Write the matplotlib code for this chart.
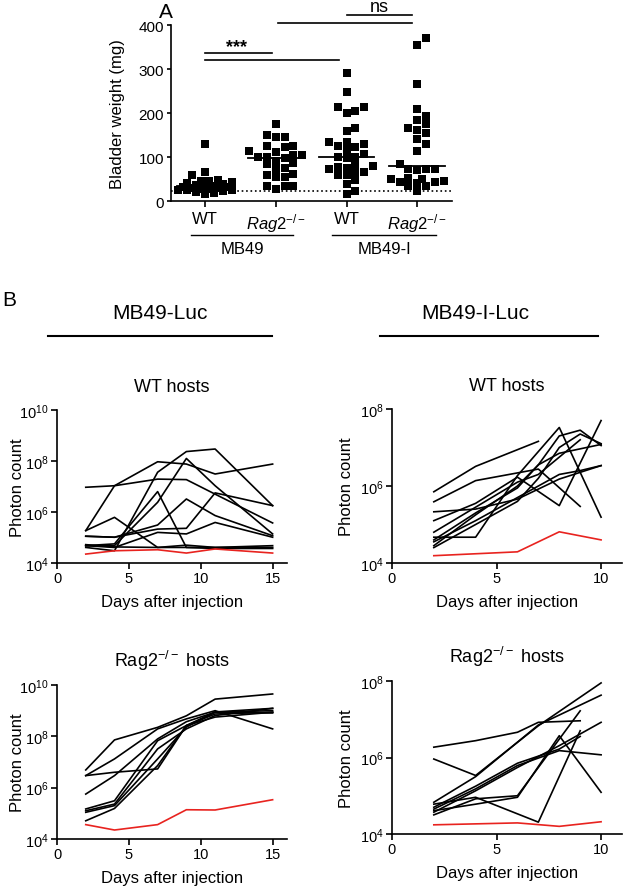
import numpy as np
import matplotlib.pyplot as plt
from matplotlib.ticker import NullLocator

plt.rcParams['font.family'] = ['Liberation Sans', 'DejaVu Sans']
plt.rcParams['mathtext.fontset'] = 'custom'
plt.rcParams['mathtext.rm'] = 'Liberation Sans'
plt.rcParams['mathtext.it'] = 'Liberation Sans:italic'
plt.rcParams['mathtext.bf'] = 'Liberation Sans:bold'
plt.rcParams['axes.linewidth'] = 1.2
plt.rcParams['xtick.major.width'] = 1.2
plt.rcParams['ytick.major.width'] = 1.2

# ---------------- panel A data (bladder weight, mg) ----------------
group_labels = ['WT', r'$\mathit{Rag2}^{-/-}$', 'WT', r'$\mathit{Rag2}^{-/-}$']
wt_mb49 = [129, 67, 59, 48, 46, 46, 43, 42, 40, 39, 38, 37, 36, 35, 35,
           34, 33, 32, 31, 30, 29, 28, 27, 26, 25, 24, 22, 20, 18, 17]
rag_mb49 = [176, 146, 146, 150, 126, 123, 125, 111, 114, 104, 101, 98, 101,
            105, 86, 92, 75, 83, 73, 61, 54, 54, 60, 33, 27, 33, 35]
wt_mb49i = [292, 248, 214, 200, 205, 214, 167, 158, 133, 129, 123, 124, 133,
            116, 107, 101, 98, 100, 78, 76, 84, 73, 79, 66, 65, 58, 58, 48,
            39, 23, 17]
rag_mb49i = [370, 355, 267, 208, 194, 183, 176, 162, 165, 154, 142, 130, 114,
             85, 73, 71, 73, 73, 43, 46, 51, 52, 51, 35, 43, 35, 40, 23]
detection_limit = 23

# ---------------- panel B data (log10 photon count) ----------------
nan = np.nan
days_luc = [2, 4, 7, 9, 11, 15]
luc_wt = [
    [6.97, 7.03, 7.29, 7.27, 6.70, 5.57],
    [5.27, 7.03, 7.97, 7.88, 7.49, 7.88],
    [4.61, 4.48, 7.56, 8.37, 8.47, 6.25],
    [4.68, 4.68, 6.38, 8.10, 7.03, 5.14],
    [4.68, 4.75, 6.80, 4.61, 4.61, 4.68],
    [5.27, 5.79, 4.61, 4.70, 4.61, 4.61],
    [5.05, 5.01, 5.33, 5.36, 6.75, 6.25],
    [5.05, 5.01, 5.49, 6.51, 5.86, 5.07],
    [4.68, 4.61, 5.20, 5.14, 5.59, 5.01],
    [4.72, 4.63, 4.61, 4.61, 4.57, 4.57],
]
luc_wt_ctrl = [4.35, 4.48, 4.52, 4.39, 4.55, 4.39]

luc_rag = [
    [6.69, 7.86, 8.35, 8.80, 9.45, 9.65],
    [6.47, 7.12, 8.29, 8.68, 9.00, 8.29],
    [6.47, 6.60, 6.73, 8.42, 8.95, 9.09],
    [5.75, 6.47, 7.90, 8.57, 8.94, 9.00],
    [5.17, 5.49, 7.83, 8.42, 8.87, 8.94],
    [5.10, 5.36, 7.51, 8.29, 8.81, 9.09],
    [5.04, 5.30, 7.12, 8.36, 8.94, 8.91],
    [4.71, 5.19, 6.86, 8.42, 8.75, 8.94],
]
luc_rag_ctrl = [4.56, 4.35, 4.56, 5.14, 5.13, 5.53]

days_luci = [2, 4, 6, 7, 8, 9, 10]
luci_wt = [
    [5.85, 6.51, nan, 7.16, nan, nan, nan],
    [5.59, 6.14, nan, 6.44, nan, 5.47, nan],
    [5.33, 5.40, 5.66, nan, 6.18, nan, 6.53],
    [5.10, 5.55, 6.23, nan, 5.49, nan, 7.70],
    [4.67, 4.67, 6.27, nan, 7.52, nan, 5.19],
    [4.45, 5.25, 6.00, 6.55, 7.30, 7.45, 7.05],
    [4.60, 5.30, 5.95, 6.55, 6.85, nan, 7.08],
    [4.55, 5.10, 5.70, 6.00, 6.30, 6.40, 6.53],
    [4.80, 5.45, 6.10, 6.30, 6.75, 7.20, nan],
    [4.40, 5.00, 5.60, 6.20, 7.00, 7.35, 7.10],
]
luci_wt_ctrl = [4.19, nan, 4.29, nan, 4.81, nan, 4.60]

luci_rag = [
    [6.27, 6.44, 6.66, 6.92, nan, 6.96, nan],
    [5.96, 5.53, nan, 6.83, nan, nan, 7.95],
    [4.83, 5.50, nan, 6.85, nan, nan, 7.63],
    [4.78, 4.96, nan, 4.31, nan, 6.70, nan],
    [4.61, 4.78, 4.96, nan, 6.57, nan, 5.09],
    [4.50, 4.92, 5.00, nan, nan, 7.22, nan],
    [4.65, 5.18, 5.79, nan, 6.18, nan, 6.07],
    [4.70, 5.25, 5.85, nan, 6.22, 6.55, nan],
    [4.57, 5.13, 5.74, nan, 6.31, nan, 6.92],
]
luci_rag_ctrl = [4.24, nan, 4.29, nan, 4.20, nan, 4.32]

W, H = 623, 887
fig = plt.figure(figsize=(W / 100, H / 100), dpi=100)


def box(left, top, right, bottom):
    # pixel box -> figure fraction rect
    return [left / W, 1 - bottom / H, (right - left) / W, (bottom - top) / H]


def ftext(x, y, s, **kw):
    fig.text(x / W, 1 - y / H, s, **kw)


def swarm(vals, dy=17.0, dx=0.125, step=0.0625, maxw=0.42):
    # simple beeswarm: put each point as close to the centre as possible
    # without overlapping the ones already placed (overlap allowed if crowded)
    vals = np.asarray(vals, float)
    offs = np.zeros(len(vals))
    placed = []
    cands = np.arange(0, maxw + 1e-9, step)
    cands = np.concatenate([[0], np.ravel(np.column_stack([cands[1:], -cands[1:]]))])
    for i in np.argsort(vals):
        best, best_score = 0.0, -1
        for c in cands:
            if not placed:
                best = c
                break
            px = np.array([p[0] for p in placed])
            py = np.array([p[1] for p in placed])
            near = np.abs(py - vals[i]) < dy
            if not near.any():
                best = c
                break
            d = np.min(np.abs(px[near] - c))
            if d >= dx:
                best = c
                break
            if d > best_score:
                best, best_score = c, d
        offs[i] = best
        placed.append((best, vals[i]))
    return offs


# ---------------- panel A ----------------
axA = fig.add_axes(box(171, 26, 452, 202))
all_groups = [wt_mb49, rag_mb49, wt_mb49i, rag_mb49i]
for i, g in enumerate(all_groups):
    xpos = i + 1
    offs = swarm(g)
    axA.scatter(xpos + offs, g, marker='s', s=26, color='k', linewidths=0,
                zorder=3, clip_on=False)
    hw = max(0.34, np.abs(offs).max() + 0.02)
    axA.plot([xpos - hw, xpos + hw], [np.median(g)] * 2, color='k', lw=1.3,
             zorder=4)
axA.axhline(detection_limit, ls=':', color='k', lw=1.2)
axA.set_xlim(0.52, 4.49)
axA.set_ylim(0, 400)
axA.set_yticks([0, 100, 200, 300, 400])
axA.set_xticks([1, 2, 3, 4])
axA.set_xticklabels(group_labels, fontsize=12)
axA.tick_params(axis='y', labelsize=11, length=3, pad=2)
axA.tick_params(axis='x', length=4, pad=3)
axA.set_ylabel('Bladder weight (mg)', fontsize=12)
axA.yaxis.set_label_coords(-0.165, 0.5)
for s in ['top', 'right']:
    axA.spines[s].set_visible(False)

# significance bars
sig = [(1, 1.95, 336), (1, 2.89, 320), (2.03, 3.93, 405), (3.0, 3.93, 423)]
for x0, x1, yv in sig:
    axA.plot([x0, x1], [yv, yv], color='k', lw=1.2, clip_on=False)
axA.text(1.44, 341, '***', ha='center', va='baseline', fontsize=13,
         fontweight='bold')
axA.text(3.46, 432, 'ns', ha='center', va='baseline', fontsize=13)

# group lines
tr = axA.get_xaxis_transform()
for x0, x1, lab in [(0.8, 2.25, 'MB49'), (2.8, 4.27, 'MB49-I')]:
    axA.plot([x0, x1], [-0.193, -0.193], color='k', lw=1.0, transform=tr,
             clip_on=False)
    axA.text((x0 + x1) / 2, -0.225, lab, transform=tr, ha='center', va='top',
             fontsize=12)

ftext(166, 13, 'A', fontsize=15, ha='center', va='center')
ftext(9, 300, 'B', fontsize=15, ha='center', va='center')

# ---------------- panel B ----------------
ftext(160, 314, 'MB49-Luc', fontsize=15, ha='center', va='center')
ftext(475, 314, 'MB49-I-Luc', fontsize=15, ha='center', va='center')
fig.add_artist(plt.Line2D([48 / W, 272 / W], [1 - 337 / H] * 2, color='k',
                          lw=1.5))
fig.add_artist(plt.Line2D([380 / W, 598 / W], [1 - 337 / H] * 2, color='k',
                          lw=1.5))


def line_panel(rect, days, lines, ctrl, xmax, ytop, title, xticks, labx):
    ax = fig.add_axes(rect)
    d = np.asarray(days, float)
    for ln in lines:
        v = np.asarray(ln, float)
        m = ~np.isnan(v)
        ax.plot(d[m], 10 ** v[m], color='k', lw=1.2)
    c = np.asarray(ctrl, float)
    m = ~np.isnan(c)
    ax.plot(d[m], 10 ** c[m], color='#e8231f', lw=1.2)
    ax.set_yscale('log')
    ax.set_ylim(1e4, 10 ** ytop)
    ax.set_xlim(0, xmax)
    yt = list(range(4, ytop + 1, 2))
    ax.set_yticks([10 ** e for e in yt])
    ax.set_yticklabels([r'$10^{%d}$' % e for e in yt])
    ax.yaxis.set_minor_locator(NullLocator())
    ax.set_xticks(xticks)
    ax.tick_params(labelsize=10.5, length=4, pad=2)
    ax.set_xlabel('Days after injection', fontsize=12, labelpad=6)
    ax.set_ylabel('Photon count', fontsize=12)
    ax.yaxis.set_label_coords(labx, 0.5)
    ax.set_title(title, fontsize=13, pad=14)
    for s in ['top', 'right']:
        ax.spines[s].set_visible(False)
    return ax


line_panel(box(57, 411, 287, 564), days_luc, luc_wt, luc_wt_ctrl, 16, 10,
           'WT hosts', [0, 5, 10, 15], -0.14)
line_panel(box(392, 410, 622, 564), days_luci, luci_wt, luci_wt_ctrl, 11, 8,
           'WT hosts', [0, 5, 10], -0.165)
line_panel(box(57, 686, 287, 840), days_luc, luc_rag, luc_rag_ctrl, 16, 10,
           r'Rag2$^{-/-}$ hosts', [0, 5, 10, 15], -0.14)
line_panel(box(392, 682, 622, 835), days_luci, luci_rag, luci_rag_ctrl, 11, 8,
           r'Rag2$^{-/-}$ hosts', [0, 5, 10], -0.165)

fig.savefig('out.png', dpi=100)
